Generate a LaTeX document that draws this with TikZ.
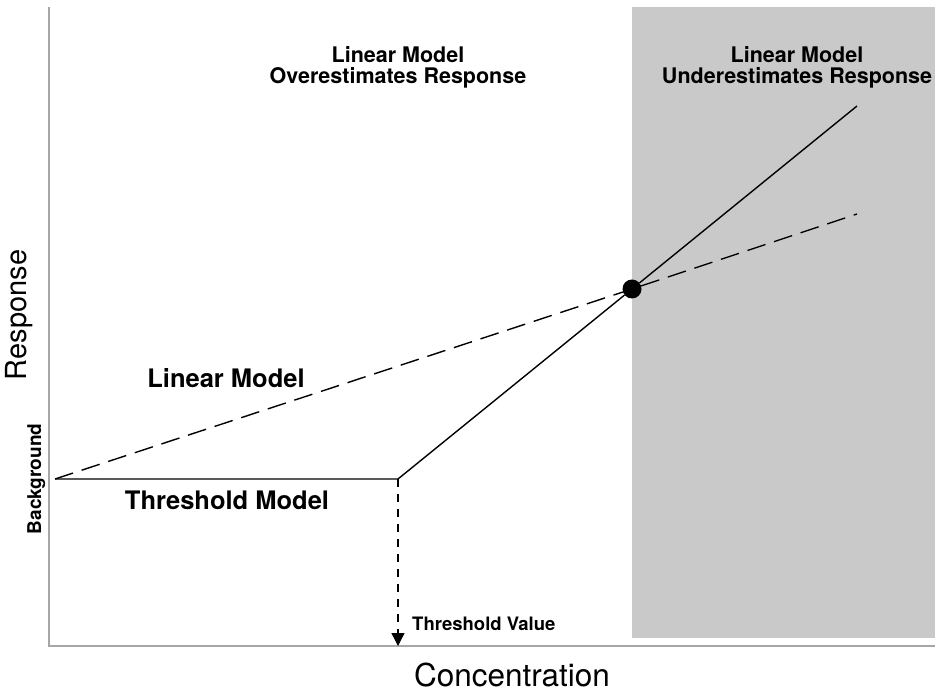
\documentclass[tikz,border=0pt]{standalone}
\usepackage{fontspec}
\setmainfont{TeX Gyre Heros}
\usetikzlibrary{arrows.meta}
\tikzstyle{vx}=[shape=circle, minimum size=19pt, inner sep=0, fill=black]
\tikzstyle{axis}=[draw=black!35, line width=1.4pt]
\tikzstyle{model}=[line width=1.4pt]
\tikzstyle{lindash}=[line width=1.4pt, dash pattern=on 19pt off 9pt]
\tikzstyle{thrdash}=[line width=1.4pt, dash pattern=on 8pt off 7pt]
\tikzstyle{head}=[inner sep=0, align=center, anchor=base, font=\bfseries\fontsize{21.5}{21}\selectfont]
\tikzstyle{lbl}=[inner sep=0, anchor=base, font=\bfseries\fontsize{25.5}{26}\selectfont]
\tikzstyle{axlbl}=[inner sep=0, anchor=base, font=\fontsize{31.5}{32}\selectfont]

\begin{document}
\begin{tikzpicture}[x=1pt,y=-1pt]
\useasboundingbox (0,0) rectangle (935,692);
\fill[black!21] (632,7) rectangle (935,638);
\draw[axis] (49,7) -- (49,646) -- (935,646);
% points of the two models
\coordinate (bg) at (55,479);
\coordinate (thr) at (398,479);
\coordinate (tv) at (398,646);
\coordinate (solidend) at (857,106);
\coordinate (dashend) at (857,214);
\node[vx] (cross) at (632,289) {};
\draw[model] (bg) -- (thr) -- (cross) -- (solidend);
\draw[lindash] (bg) -- (cross);
\draw[lindash] (cross) -- (dashend);
\draw[thrdash, -{Triangle[width=13pt,length=13pt]}] (thr) -- (tv);
% labels
\node[head] (over) at (398,84) {Linear Model\\Overestimates Response};
\node[head] (under) at (797,84) {Linear Model\\Underestimates Response};
\node[lbl] (linlbl) at (226,388) {Linear Model};
\node[lbl] (thrlbl) at (227,510) {Threshold Model};
\node[inner sep=0, anchor=base west, font=\bfseries\fontsize{18.5}{19}\selectfont] (tvlbl) at (412,630) {Threshold Value};
\node[inner sep=0, anchor=base, rotate=90, font=\bfseries\fontsize{19}{19}\selectfont] (bglbl) at (41,479) {Background};
\node[axlbl, rotate=90, font=\fontsize{29}{29}\selectfont] (ylbl) at (27,315) {Response};
\node[axlbl] (xlbl) at (512,686) {Concentration};
\end{tikzpicture}
\end{document}
